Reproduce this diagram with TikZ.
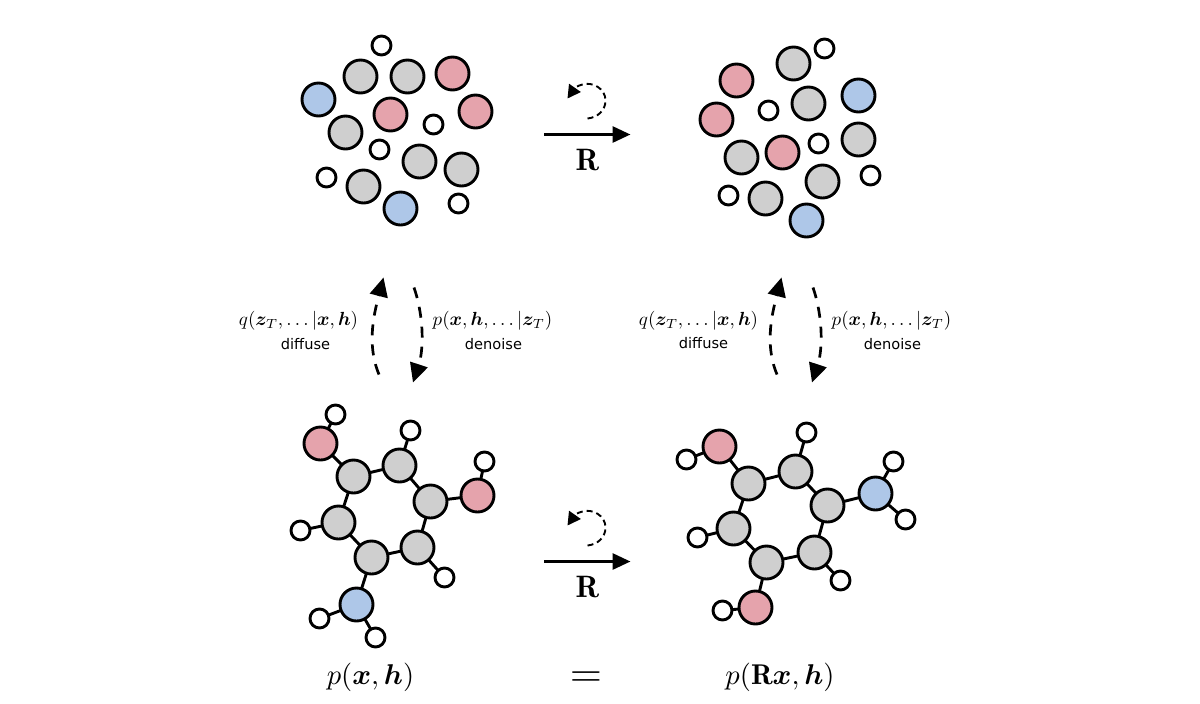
\documentclass[tikz,border=0pt]{standalone}
\usepackage{amsmath,amssymb,bm}
\usepackage{fontspec}
\newfontfamily\labelsans{DejaVu Sans}
\usetikzlibrary{arrows.meta}
\definecolor{atomgray}{HTML}{CFCFCF}
\definecolor{atompink}{HTML}{E5A3AC}
\definecolor{atomblue}{HTML}{AEC7E8}
\tikzset{
  x=0.5pt,y=-0.5pt,
  atom/.style={circle,draw=black,line width=1.45pt,inner sep=0pt,outer sep=0pt},
  carbon/.style={atom,fill=atomgray,minimum size=16.5pt},
  oxygen/.style={atom,fill=atompink,minimum size=16.5pt},
  nitrogen/.style={atom,fill=atomblue,minimum size=16.5pt},
  hydrogen/.style={atom,fill=white,minimum size=9.5pt},
  bond/.style={line width=1.45pt},
  rotarrow/.style={line width=1.5pt,-{Triangle[length=9pt,width=8pt]}},
  looparrow/.style={line width=0.95pt,dash pattern=on 3pt off 2pt,-{Triangle[length=6.5pt,width=7pt]}},
  flowarrow/.style={line width=1.35pt,dash pattern=on 5.5pt off 4.5pt,-{Triangle[length=9.5pt,width=9pt]}},
  mathlabel/.style={inner sep=0pt,scale=0.95},
  wordlabel/.style={inner sep=0pt,font=\labelsans\fontsize{7.3}{8}\selectfont},
  biglabel/.style={inner sep=0pt,scale=1.43},
  rotlabel/.style={inner sep=0pt,scale=1.55},
}
\begin{document}
\begin{tikzpicture}
\useasboundingbox (0,0) rectangle (1200,703);
\fill[white] (0,0) rectangle (1200,703);
\begin{scope}[xshift=0.25pt,yshift=-0.25pt]

% Unbonded point cloud, upper left
\foreach \n/\x/\y in {a1/381/45,a2/433/124,a3/379/149,a4/326/177,a5/458/203}
  \node[hydrogen] (\n) at (\x,\y) {};
\foreach \n/\x/\y in {a6/360/76,a7/407/76,a8/345/132,a9/419/161,a10/461/169,a11/363/186}
  \node[carbon] (\n) at (\x,\y) {};
\foreach \n/\x/\y in {a12/452/73,a13/390/114,a14/475/111}
  \node[oxygen] (\n) at (\x,\y) {};
\foreach \n/\x/\y in {a15/318/99,a16/400/208}
  \node[nitrogen] (\n) at (\x,\y) {};

% Rotated point cloud, upper right
\foreach \n/\x/\y in {b1/824/48,b2/768/110,b3/818/143,b4/870/175,b5/728/195}
  \node[hydrogen] (\n) at (\x,\y) {};
\foreach \n/\x/\y in {b6/793/63,b7/808/103,b8/858/139,b9/741/157,b10/822/181,b11/765/198}
  \node[carbon] (\n) at (\x,\y) {};
\foreach \n/\x/\y in {b12/736/80,b13/716/119,b14/782/152}
  \node[oxygen] (\n) at (\x,\y) {};
\foreach \n/\x/\y in {b15/858/95,b16/806/220}
  \node[nitrogen] (\n) at (\x,\y) {};

% Molecule, lower left
\foreach \n/\x/\y in {c1/353/476,c2/399/465,c3/430/501,c4/417/547,c5/371/557,c6/338/522}
  \node[carbon] (\n) at (\x,\y) {};
\node[oxygen] (c7) at (320,443) {};
\node[oxygen] (c8) at (477,495) {};
\node[nitrogen] (c9) at (356,604) {};
\foreach \n/\x/\y in {h1/335/414,h2/410/430,h3/484/461,h4/444/577,h5/300/530,h6/319/618,h7/375/637}
  \node[hydrogen] (\n) at (\x,\y) {};
\foreach \p/\q in {c1/c2,c2/c3,c3/c4,c4/c5,c5/c6,c6/c1,c1/c7,c3/c8,c5/c9,c7/h1,c2/h2,c8/h3,c4/h4,c6/h5,c9/h6,c9/h7}
  \draw[bond] (\p) -- (\q);

% Rotated molecule, lower right
\foreach \n/\x/\y in {d1/748/483,d2/795/471,d3/827/505,d4/814/552,d5/766/562,d6/733/528}
  \node[carbon] (\n) at (\x,\y) {};
\node[oxygen] (d7) at (719,446) {};
\node[nitrogen] (d8) at (875,493) {};
\node[oxygen] (d9) at (755,607) {};
\foreach \n/\x/\y in {k1/686/459,k2/806/432,k3/893/461,k4/905/519,k5/840/580,k6/697/537,k7/722/610}
  \node[hydrogen] (\n) at (\x,\y) {};
\foreach \p/\q in {d1/d2,d2/d3,d3/d4,d4/d5,d5/d6,d6/d1,d1/d7,d3/d8,d5/d9,d7/k1,d2/k2,d8/k3,d8/k4,d4/k5,d6/k6,d9/k7}
  \draw[bond] (\p) -- (\q);

% Rotation arrows with their loops
\coordinate (rt0) at (543.5,134); \coordinate (rt1) at (630,134);
\draw[rotarrow] (rt0) -- (rt1);
\node[rotlabel] (rtlabel) at (587,160) {$\mathbf{R}$};
\coordinate (lt0) at (587,118); \coordinate (lt1) at (567,98);
\draw[looparrow] (lt0) .. controls (597,117) and (605,110) .. (605,100)
  .. controls (605,88) and (592,81) .. (582,84) .. controls (577,85) and (574,88) .. (lt1);

\coordinate (rb0) at (543.5,561); \coordinate (rb1) at (630,561);
\draw[rotarrow] (rb0) -- (rb1);
\node[rotlabel] (rblabel) at (587,587) {$\mathbf{R}$};
\coordinate (lb0) at (587,545); \coordinate (lb1) at (567,525);
\draw[looparrow] (lb0) .. controls (597,544) and (605,537) .. (605,527)
  .. controls (605,515) and (592,508) .. (582,511) .. controls (577,512) and (574,515) .. (lb1);

% Diffusion and denoising arrows, left pair
\coordinate (dl0) at (378.5,374); \coordinate (dl1) at (383,277);
\draw[flowarrow] (dl0) .. controls (365,342) and (375,308) .. (dl1);
\coordinate (dl2) at (413.5,287); \coordinate (dl3) at (412.5,382);
\draw[flowarrow] (dl2) .. controls (424,318) and (423,350) .. (dl3);
\node[mathlabel] (ql) at (298,320) {$q(\bm{z}_T,\ldots|\bm{x},\bm{h})$};
\node[wordlabel] (wl1) at (305,344) {diffuse};
\node[mathlabel] (pl) at (492,320) {$p(\bm{x},\bm{h},\ldots|\bm{z}_T)$};
\node[wordlabel] (wl2) at (493,344) {denoise};

% Diffusion and denoising arrows, right pair
\coordinate (dr0) at (776.5,374); \coordinate (dr1) at (781,277);
\draw[flowarrow] (dr0) .. controls (763,342) and (773,308) .. (dr1);
\coordinate (dr2) at (812.5,287); \coordinate (dr3) at (811.5,382);
\draw[flowarrow] (dr2) .. controls (823,318) and (822,350) .. (dr3);
\node[mathlabel] (qr) at (698,320) {$q(\bm{z}_T,\ldots|\bm{x},\bm{h})$};
\node[wordlabel] (wr1) at (703,343) {diffuse};
\node[mathlabel] (pr) at (891,320) {$p(\bm{x},\bm{h},\ldots|\bm{z}_T)$};
\node[wordlabel] (wr2) at (892,344) {denoise};

% Equality of the two densities
\node[biglabel] (dens1) at (370,677) {$p(\bm{x},\bm{h})$};
\node[inner sep=0pt,xscale=2.07,yscale=2] (eq) at (585.5,678.5) {$=$};
\node[biglabel] (dens2) at (779.5,677) {$p(\mathbf{R}\bm{x},\bm{h})$};
\end{scope}
\end{tikzpicture}
\end{document}
